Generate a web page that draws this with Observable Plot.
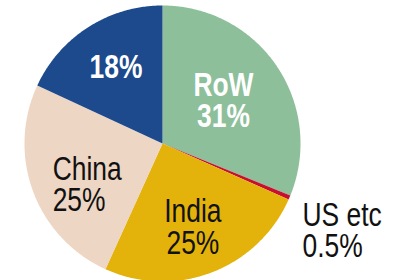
<!DOCTYPE html>
<html><head><meta charset="utf-8">
<script src="https://cdn.jsdelivr.net/npm/d3@7"></script>
<script src="https://cdn.jsdelivr.net/npm/@observablehq/plot@0.6"></script>
<style>body{margin:0;background:#fff}</style>
</head><body><div id="chart"></div>
<script>
const names = ["RoW", "US etc", "India", "China", "Other"];
const shares = [31, 0.5, 25, 25, 18];
const labels = ["RoW\n31%", "US etc\n0.5%", "India\n25%", "China\n25%", "18%"];
const colors = ["#8dbf9b", "#c8102e", "#e3b30c", "#edd6c3", "#1c4a8c"];

const data = names.map((name, i) => ({name, value: shares[i], label: labels[i]}));
const arcs = d3.pie().sort(null).value(d => d.value)(data);

// polygon outline of each slice in unit-radius coordinates (y up, clockwise from 12 o'clock)
const outline = [];
for (const a of arcs) {
  outline.push({name: a.data.name, x: 0, y: 0});
  const n = Math.max(2, Math.ceil((a.endAngle - a.startAngle) / 0.01));
  for (let k = 0; k <= n; k++) {
    const t = a.startAngle + (a.endAngle - a.startAngle) * k / n;
    outline.push({name: a.data.name, x: Math.sin(t), y: Math.cos(t)});
  }
}

function labelAt(name, r) {
  const a = arcs.find(d => d.data.name === name);
  const m = (a.startAngle + a.endAngle) / 2;
  return [{x: r * Math.sin(m), y: r * Math.cos(m), label: a.data.label}];
}

const font = "'Liberation Sans', Arial, sans-serif";
const common = {x: "x", y: "y", text: "label", fontFamily: font, fontSize: 33, lineHeight: 0.95};

const chart = Plot.plot({
  width: 393, height: 280,
  margin: 0,
  x: {domain: [-1, 1], range: [24, 300], axis: null},
  y: {domain: [-1, 1], range: [281, 5], axis: null},
  color: {domain: names, range: colors},
  marks: [
    Plot.line(outline, {x: "x", y: "y", z: "name", fill: "name", stroke: null, curve: "linear-closed"}),
    Plot.text(labelAt("RoW", 0.55), {...common, fill: "white", fontWeight: "bold", dx: -2, dy: 0}),
    Plot.text(labelAt("Other", 0.68), {...common, fill: "white", fontWeight: "bold", dx: 4, dy: 4}),
    Plot.text(labelAt("India", 0.64), {...common, fill: "#111", dx: -1, dy: 2}),
    Plot.text(labelAt("China", 0.64), {...common, fill: "#111", textAnchor: "start", dx: -27, dy: 11}),
    Plot.text(labelAt("US etc", 1.0), {...common, fill: "#111", textAnchor: "start", dx: 13, dy: 34})
  ]
});
// condensed look: squeeze label glyphs horizontally about their anchor
chart.querySelectorAll("text").forEach(el => {
  const t = el.getAttribute("transform") || "";
  el.setAttribute("transform", t + " scale(0.8,1)");
});
document.getElementById("chart").append(chart);
</script>
</body></html>
